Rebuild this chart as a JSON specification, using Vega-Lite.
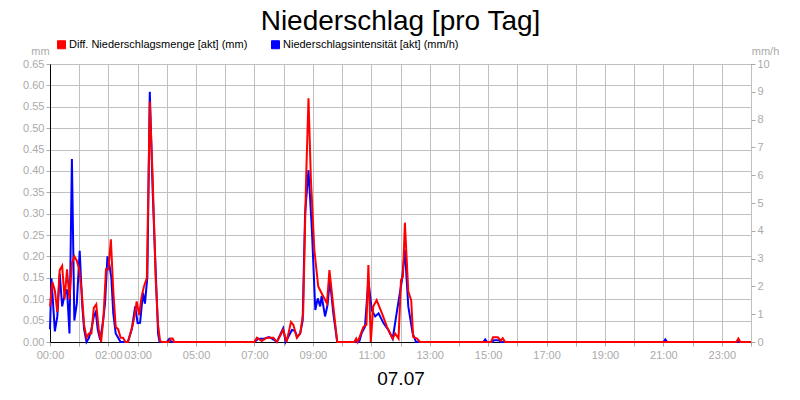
{
  "$schema": "https://vega.github.io/schema/vega-lite/v6.json",
  "width": 701,
  "height": 278,
  "autosize": {"type": "none"},
  "padding": {"left": 50, "top": 64, "right": 49, "bottom": 58},
  "background": "white",
  "title": {
    "text": "Niederschlag [pro Tag]",
    "font": "Liberation Sans",
    "fontSize": 28,
    "fontWeight": "normal",
    "color": "black",
    "anchor": "middle",
    "frame": "group",
    "offset": 3
  },
  "config": {
    "font": "Liberation Sans",
    "view": {"stroke": "black", "strokeWidth": 1},
    "axis": {
      "labelFont": "Liberation Sans",
      "labelFontSize": 11,
      "labelColor": "#aaaaaa",
      "tickColor": "#aaaaaa",
      "tickSize": 4,
      "gridColor": "#c0c0c0",
      "gridWidth": 1,
      "gridOpacity": 1,
      "domainColor": "black",
      "titleFont": "Liberation Sans",
      "titleFontWeight": "normal"
    }
  },
  "data": {
    "values": [
      {"min": 0, "series": "Diff. Niederschlagsmenge [akt] (mm)", "val": 0.083},
      {"min": 5, "series": "Diff. Niederschlagsmenge [akt] (mm)", "val": 0.14},
      {"min": 10, "series": "Diff. Niederschlagsmenge [akt] (mm)", "val": 0.12},
      {"min": 15, "series": "Diff. Niederschlagsmenge [akt] (mm)", "val": 0.07},
      {"min": 20, "series": "Diff. Niederschlagsmenge [akt] (mm)", "val": 0.168},
      {"min": 25, "series": "Diff. Niederschlagsmenge [akt] (mm)", "val": 0.178},
      {"min": 30, "series": "Diff. Niederschlagsmenge [akt] (mm)", "val": 0.10},
      {"min": 35, "series": "Diff. Niederschlagsmenge [akt] (mm)", "val": 0.17},
      {"min": 40, "series": "Diff. Niederschlagsmenge [akt] (mm)", "val": 0.10},
      {"min": 45, "series": "Diff. Niederschlagsmenge [akt] (mm)", "val": 0.185},
      {"min": 50, "series": "Diff. Niederschlagsmenge [akt] (mm)", "val": 0.20},
      {"min": 55, "series": "Diff. Niederschlagsmenge [akt] (mm)", "val": 0.19},
      {"min": 60, "series": "Diff. Niederschlagsmenge [akt] (mm)", "val": 0.17},
      {"min": 65, "series": "Diff. Niederschlagsmenge [akt] (mm)", "val": 0.12},
      {"min": 70, "series": "Diff. Niederschlagsmenge [akt] (mm)", "val": 0.04},
      {"min": 75, "series": "Diff. Niederschlagsmenge [akt] (mm)", "val": 0.01},
      {"min": 80, "series": "Diff. Niederschlagsmenge [akt] (mm)", "val": 0.02},
      {"min": 85, "series": "Diff. Niederschlagsmenge [akt] (mm)", "val": 0.02},
      {"min": 90, "series": "Diff. Niederschlagsmenge [akt] (mm)", "val": 0.08},
      {"min": 95, "series": "Diff. Niederschlagsmenge [akt] (mm)", "val": 0.088},
      {"min": 100, "series": "Diff. Niederschlagsmenge [akt] (mm)", "val": 0.03},
      {"min": 105, "series": "Diff. Niederschlagsmenge [akt] (mm)", "val": 0.0},
      {"min": 110, "series": "Diff. Niederschlagsmenge [akt] (mm)", "val": 0.06},
      {"min": 115, "series": "Diff. Niederschlagsmenge [akt] (mm)", "val": 0.17},
      {"min": 120, "series": "Diff. Niederschlagsmenge [akt] (mm)", "val": 0.17},
      {"min": 125, "series": "Diff. Niederschlagsmenge [akt] (mm)", "val": 0.24},
      {"min": 130, "series": "Diff. Niederschlagsmenge [akt] (mm)", "val": 0.12},
      {"min": 135, "series": "Diff. Niederschlagsmenge [akt] (mm)", "val": 0.035},
      {"min": 140, "series": "Diff. Niederschlagsmenge [akt] (mm)", "val": 0.03},
      {"min": 145, "series": "Diff. Niederschlagsmenge [akt] (mm)", "val": 0.01},
      {"min": 150, "series": "Diff. Niederschlagsmenge [akt] (mm)", "val": 0.01},
      {"min": 155, "series": "Diff. Niederschlagsmenge [akt] (mm)", "val": 0},
      {"min": 160, "series": "Diff. Niederschlagsmenge [akt] (mm)", "val": 0},
      {"min": 165, "series": "Diff. Niederschlagsmenge [akt] (mm)", "val": 0.02},
      {"min": 170, "series": "Diff. Niederschlagsmenge [akt] (mm)", "val": 0.04},
      {"min": 175, "series": "Diff. Niederschlagsmenge [akt] (mm)", "val": 0.07},
      {"min": 178, "series": "Diff. Niederschlagsmenge [akt] (mm)", "val": 0.095},
      {"min": 183, "series": "Diff. Niederschlagsmenge [akt] (mm)", "val": 0.063},
      {"min": 188, "series": "Diff. Niederschlagsmenge [akt] (mm)", "val": 0.105},
      {"min": 193, "series": "Diff. Niederschlagsmenge [akt] (mm)", "val": 0.13},
      {"min": 199, "series": "Diff. Niederschlagsmenge [akt] (mm)", "val": 0.15},
      {"min": 205, "series": "Diff. Niederschlagsmenge [akt] (mm)", "val": 0.562},
      {"min": 211, "series": "Diff. Niederschlagsmenge [akt] (mm)", "val": 0.38},
      {"min": 217, "series": "Diff. Niederschlagsmenge [akt] (mm)", "val": 0.15},
      {"min": 222, "series": "Diff. Niederschlagsmenge [akt] (mm)", "val": 0.04},
      {"min": 226, "series": "Diff. Niederschlagsmenge [akt] (mm)", "val": 0.003},
      {"min": 230, "series": "Diff. Niederschlagsmenge [akt] (mm)", "val": 0},
      {"min": 244, "series": "Diff. Niederschlagsmenge [akt] (mm)", "val": 0},
      {"min": 248, "series": "Diff. Niederschlagsmenge [akt] (mm)", "val": 0.008},
      {"min": 252, "series": "Diff. Niederschlagsmenge [akt] (mm)", "val": 0.008},
      {"min": 255, "series": "Diff. Niederschlagsmenge [akt] (mm)", "val": 0},
      {"min": 420, "series": "Diff. Niederschlagsmenge [akt] (mm)", "val": 0},
      {"min": 425, "series": "Diff. Niederschlagsmenge [akt] (mm)", "val": 0.01},
      {"min": 435, "series": "Diff. Niederschlagsmenge [akt] (mm)", "val": 0.002},
      {"min": 445, "series": "Diff. Niederschlagsmenge [akt] (mm)", "val": 0.01},
      {"min": 459, "series": "Diff. Niederschlagsmenge [akt] (mm)", "val": 0.01},
      {"min": 466, "series": "Diff. Niederschlagsmenge [akt] (mm)", "val": 0},
      {"min": 479, "series": "Diff. Niederschlagsmenge [akt] (mm)", "val": 0.028},
      {"min": 486, "series": "Diff. Niederschlagsmenge [akt] (mm)", "val": 0},
      {"min": 495, "series": "Diff. Niederschlagsmenge [akt] (mm)", "val": 0.047},
      {"min": 500, "series": "Diff. Niederschlagsmenge [akt] (mm)", "val": 0.04},
      {"min": 507, "series": "Diff. Niederschlagsmenge [akt] (mm)", "val": 0.01},
      {"min": 514, "series": "Diff. Niederschlagsmenge [akt] (mm)", "val": 0.02},
      {"min": 520, "series": "Diff. Niederschlagsmenge [akt] (mm)", "val": 0.067},
      {"min": 526, "series": "Diff. Niederschlagsmenge [akt] (mm)", "val": 0.379},
      {"min": 531, "series": "Diff. Niederschlagsmenge [akt] (mm)", "val": 0.57},
      {"min": 536, "series": "Diff. Niederschlagsmenge [akt] (mm)", "val": 0.379},
      {"min": 543, "series": "Diff. Niederschlagsmenge [akt] (mm)", "val": 0.215},
      {"min": 551, "series": "Diff. Niederschlagsmenge [akt] (mm)", "val": 0.13},
      {"min": 558, "series": "Diff. Niederschlagsmenge [akt] (mm)", "val": 0.114},
      {"min": 569, "series": "Diff. Niederschlagsmenge [akt] (mm)", "val": 0.09},
      {"min": 574, "series": "Diff. Niederschlagsmenge [akt] (mm)", "val": 0.168},
      {"min": 581, "series": "Diff. Niederschlagsmenge [akt] (mm)", "val": 0.094},
      {"min": 590, "series": "Diff. Niederschlagsmenge [akt] (mm)", "val": 0},
      {"min": 625, "series": "Diff. Niederschlagsmenge [akt] (mm)", "val": 0},
      {"min": 629, "series": "Diff. Niederschlagsmenge [akt] (mm)", "val": 0.008},
      {"min": 632, "series": "Diff. Niederschlagsmenge [akt] (mm)", "val": 0},
      {"min": 644, "series": "Diff. Niederschlagsmenge [akt] (mm)", "val": 0.036},
      {"min": 650, "series": "Diff. Niederschlagsmenge [akt] (mm)", "val": 0.04},
      {"min": 654, "series": "Diff. Niederschlagsmenge [akt] (mm)", "val": 0.18},
      {"min": 659, "series": "Diff. Niederschlagsmenge [akt] (mm)", "val": 0},
      {"min": 664, "series": "Diff. Niederschlagsmenge [akt] (mm)", "val": 0.083},
      {"min": 671, "series": "Diff. Niederschlagsmenge [akt] (mm)", "val": 0.098},
      {"min": 682, "series": "Diff. Niederschlagsmenge [akt] (mm)", "val": 0.067},
      {"min": 692, "series": "Diff. Niederschlagsmenge [akt] (mm)", "val": 0.036},
      {"min": 704, "series": "Diff. Niederschlagsmenge [akt] (mm)", "val": 0.008},
      {"min": 709, "series": "Diff. Niederschlagsmenge [akt] (mm)", "val": 0.02},
      {"min": 716, "series": "Diff. Niederschlagsmenge [akt] (mm)", "val": 0.008},
      {"min": 721, "series": "Diff. Niederschlagsmenge [akt] (mm)", "val": 0.145},
      {"min": 725, "series": "Diff. Niederschlagsmenge [akt] (mm)", "val": 0.153},
      {"min": 729, "series": "Diff. Niederschlagsmenge [akt] (mm)", "val": 0.279},
      {"min": 736, "series": "Diff. Niederschlagsmenge [akt] (mm)", "val": 0.118},
      {"min": 742, "series": "Diff. Niederschlagsmenge [akt] (mm)", "val": 0.098},
      {"min": 746, "series": "Diff. Niederschlagsmenge [akt] (mm)", "val": 0.012},
      {"min": 754, "series": "Diff. Niederschlagsmenge [akt] (mm)", "val": 0.008},
      {"min": 760, "series": "Diff. Niederschlagsmenge [akt] (mm)", "val": 0},
      {"min": 906, "series": "Diff. Niederschlagsmenge [akt] (mm)", "val": 0},
      {"min": 910, "series": "Diff. Niederschlagsmenge [akt] (mm)", "val": 0.011},
      {"min": 920, "series": "Diff. Niederschlagsmenge [akt] (mm)", "val": 0.011},
      {"min": 926, "series": "Diff. Niederschlagsmenge [akt] (mm)", "val": 0.003},
      {"min": 930, "series": "Diff. Niederschlagsmenge [akt] (mm)", "val": 0.009},
      {"min": 935, "series": "Diff. Niederschlagsmenge [akt] (mm)", "val": 0},
      {"min": 1410, "series": "Diff. Niederschlagsmenge [akt] (mm)", "val": 0},
      {"min": 1414, "series": "Diff. Niederschlagsmenge [akt] (mm)", "val": 0.008},
      {"min": 1418, "series": "Diff. Niederschlagsmenge [akt] (mm)", "val": 0},
      {"min": 1440, "series": "Diff. Niederschlagsmenge [akt] (mm)", "val": 0},

      {"min": 0, "series": "Niederschlagsintensität [akt] (mm/h)", "val": 0.46},
      {"min": 3, "series": "Niederschlagsintensität [akt] (mm/h)", "val": 2.29},
      {"min": 10, "series": "Niederschlagsintensität [akt] (mm/h)", "val": 0.38},
      {"min": 15, "series": "Niederschlagsintensität [akt] (mm/h)", "val": 0.92},
      {"min": 20, "series": "Niederschlagsintensität [akt] (mm/h)", "val": 2.46},
      {"min": 25, "series": "Niederschlagsintensität [akt] (mm/h)", "val": 1.28},
      {"min": 30, "series": "Niederschlagsintensität [akt] (mm/h)", "val": 1.69},
      {"min": 35, "series": "Niederschlagsintensität [akt] (mm/h)", "val": 1.89},
      {"min": 40, "series": "Niederschlagsintensität [akt] (mm/h)", "val": 0.31},
      {"min": 45, "series": "Niederschlagsintensität [akt] (mm/h)", "val": 6.58},
      {"min": 50, "series": "Niederschlagsintensität [akt] (mm/h)", "val": 0.77},
      {"min": 55, "series": "Niederschlagsintensität [akt] (mm/h)", "val": 1.38},
      {"min": 61, "series": "Niederschlagsintensität [akt] (mm/h)", "val": 3.28},
      {"min": 66, "series": "Niederschlagsintensität [akt] (mm/h)", "val": 1.38},
      {"min": 70, "series": "Niederschlagsintensität [akt] (mm/h)", "val": 0.46},
      {"min": 75, "series": "Niederschlagsintensität [akt] (mm/h)", "val": 0},
      {"min": 80, "series": "Niederschlagsintensität [akt] (mm/h)", "val": 0.15},
      {"min": 85, "series": "Niederschlagsintensität [akt] (mm/h)", "val": 0.46},
      {"min": 90, "series": "Niederschlagsintensität [akt] (mm/h)", "val": 0.92},
      {"min": 94, "series": "Niederschlagsintensität [akt] (mm/h)", "val": 1.08},
      {"min": 98, "series": "Niederschlagsintensität [akt] (mm/h)", "val": 0.46},
      {"min": 103, "series": "Niederschlagsintensität [akt] (mm/h)", "val": 0.08},
      {"min": 108, "series": "Niederschlagsintensität [akt] (mm/h)", "val": 0.62},
      {"min": 113, "series": "Niederschlagsintensität [akt] (mm/h)", "val": 1.38},
      {"min": 118, "series": "Niederschlagsintensität [akt] (mm/h)", "val": 3.08},
      {"min": 122, "series": "Niederschlagsintensität [akt] (mm/h)", "val": 2.77},
      {"min": 126, "series": "Niederschlagsintensität [akt] (mm/h)", "val": 2.31},
      {"min": 130, "series": "Niederschlagsintensität [akt] (mm/h)", "val": 1.03},
      {"min": 135, "series": "Niederschlagsintensität [akt] (mm/h)", "val": 0.31},
      {"min": 140, "series": "Niederschlagsintensität [akt] (mm/h)", "val": 0.15},
      {"min": 145, "series": "Niederschlagsintensität [akt] (mm/h)", "val": 0},
      {"min": 160, "series": "Niederschlagsintensität [akt] (mm/h)", "val": 0},
      {"min": 168, "series": "Niederschlagsintensität [akt] (mm/h)", "val": 0.46},
      {"min": 175, "series": "Niederschlagsintensität [akt] (mm/h)", "val": 1.28},
      {"min": 180, "series": "Niederschlagsintensität [akt] (mm/h)", "val": 0.68},
      {"min": 185, "series": "Niederschlagsintensität [akt] (mm/h)", "val": 0.69},
      {"min": 191, "series": "Niederschlagsintensität [akt] (mm/h)", "val": 1.77},
      {"min": 195, "series": "Niederschlagsintensität [akt] (mm/h)", "val": 1.38},
      {"min": 200, "series": "Niederschlagsintensität [akt] (mm/h)", "val": 2.34},
      {"min": 205, "series": "Niederschlagsintensität [akt] (mm/h)", "val": 9.0},
      {"min": 211, "series": "Niederschlagsintensität [akt] (mm/h)", "val": 5.38},
      {"min": 216, "series": "Niederschlagsintensität [akt] (mm/h)", "val": 3.08},
      {"min": 222, "series": "Niederschlagsintensität [akt] (mm/h)", "val": 0.31},
      {"min": 225, "series": "Niederschlagsintensität [akt] (mm/h)", "val": 0},
      {"min": 240, "series": "Niederschlagsintensität [akt] (mm/h)", "val": 0},
      {"min": 245, "series": "Niederschlagsintensität [akt] (mm/h)", "val": 0.11},
      {"min": 250, "series": "Niederschlagsintensität [akt] (mm/h)", "val": 0},
      {"min": 420, "series": "Niederschlagsintensität [akt] (mm/h)", "val": 0},
      {"min": 428, "series": "Niederschlagsintensität [akt] (mm/h)", "val": 0.12},
      {"min": 440, "series": "Niederschlagsintensität [akt] (mm/h)", "val": 0.12},
      {"min": 450, "series": "Niederschlagsintensität [akt] (mm/h)", "val": 0.18},
      {"min": 460, "series": "Niederschlagsintensität [akt] (mm/h)", "val": 0.08},
      {"min": 466, "series": "Niederschlagsintensität [akt] (mm/h)", "val": 0},
      {"min": 479, "series": "Niederschlagsintensität [akt] (mm/h)", "val": 0.49},
      {"min": 484, "series": "Niederschlagsintensität [akt] (mm/h)", "val": 0},
      {"min": 497, "series": "Niederschlagsintensität [akt] (mm/h)", "val": 0.43},
      {"min": 503, "series": "Niederschlagsintensität [akt] (mm/h)", "val": 0.4},
      {"min": 508, "series": "Niederschlagsintensität [akt] (mm/h)", "val": 0.18},
      {"min": 514, "series": "Niederschlagsintensität [akt] (mm/h)", "val": 0.31},
      {"min": 519, "series": "Niederschlagsintensität [akt] (mm/h)", "val": 0.77},
      {"min": 524, "series": "Niederschlagsintensität [akt] (mm/h)", "val": 4.62},
      {"min": 531, "series": "Niederschlagsintensität [akt] (mm/h)", "val": 6.18},
      {"min": 538, "series": "Niederschlagsintensität [akt] (mm/h)", "val": 4.03},
      {"min": 545, "series": "Niederschlagsintensität [akt] (mm/h)", "val": 1.15},
      {"min": 550, "series": "Niederschlagsintensität [akt] (mm/h)", "val": 1.57},
      {"min": 555, "series": "Niederschlagsintensität [akt] (mm/h)", "val": 1.28},
      {"min": 558, "series": "Niederschlagsintensität [akt] (mm/h)", "val": 1.66},
      {"min": 565, "series": "Niederschlagsintensität [akt] (mm/h)", "val": 0.92},
      {"min": 570, "series": "Niederschlagsintensität [akt] (mm/h)", "val": 1.32},
      {"min": 575, "series": "Niederschlagsintensität [akt] (mm/h)", "val": 2.23},
      {"min": 582, "series": "Niederschlagsintensität [akt] (mm/h)", "val": 1.03},
      {"min": 590, "series": "Niederschlagsintensität [akt] (mm/h)", "val": 0},
      {"min": 635, "series": "Niederschlagsintensität [akt] (mm/h)", "val": 0},
      {"min": 640, "series": "Niederschlagsintensität [akt] (mm/h)", "val": 0.31},
      {"min": 647, "series": "Niederschlagsintensität [akt] (mm/h)", "val": 0.55},
      {"min": 654, "series": "Niederschlagsintensität [akt] (mm/h)", "val": 2.23},
      {"min": 661, "series": "Niederschlagsintensität [akt] (mm/h)", "val": 1.15},
      {"min": 668, "series": "Niederschlagsintensität [akt] (mm/h)", "val": 0.92},
      {"min": 675, "series": "Niederschlagsintensität [akt] (mm/h)", "val": 1.03},
      {"min": 685, "series": "Niederschlagsintensität [akt] (mm/h)", "val": 0.68},
      {"min": 695, "series": "Niederschlagsintensität [akt] (mm/h)", "val": 0.43},
      {"min": 704, "series": "Niederschlagsintensität [akt] (mm/h)", "val": 0.12},
      {"min": 712, "series": "Niederschlagsintensität [akt] (mm/h)", "val": 1.03},
      {"min": 723, "series": "Niederschlagsintensität [akt] (mm/h)", "val": 2.23},
      {"min": 729, "series": "Niederschlagsintensität [akt] (mm/h)", "val": 3.31},
      {"min": 736, "series": "Niederschlagsintensität [akt] (mm/h)", "val": 1.28},
      {"min": 745, "series": "Niederschlagsintensität [akt] (mm/h)", "val": 0.31},
      {"min": 752, "series": "Niederschlagsintensität [akt] (mm/h)", "val": 0},
      {"min": 890, "series": "Niederschlagsintensität [akt] (mm/h)", "val": 0},
      {"min": 894, "series": "Niederschlagsintensität [akt] (mm/h)", "val": 0.09},
      {"min": 898, "series": "Niederschlagsintensität [akt] (mm/h)", "val": 0},
      {"min": 908, "series": "Niederschlagsintensität [akt] (mm/h)", "val": 0},
      {"min": 912, "series": "Niederschlagsintensität [akt] (mm/h)", "val": 0.06},
      {"min": 922, "series": "Niederschlagsintensität [akt] (mm/h)", "val": 0.06},
      {"min": 926, "series": "Niederschlagsintensität [akt] (mm/h)", "val": 0},
      {"min": 1260, "series": "Niederschlagsintensität [akt] (mm/h)", "val": 0},
      {"min": 1264, "series": "Niederschlagsintensität [akt] (mm/h)", "val": 0.09},
      {"min": 1268, "series": "Niederschlagsintensität [akt] (mm/h)", "val": 0},
      {"min": 1440, "series": "Niederschlagsintensität [akt] (mm/h)", "val": 0}
    ]
  },
  "encoding": {
    "x": {
      "field": "min",
      "type": "quantitative",
      "scale": {"domain": [0, 1440], "nice": false, "zero": false},
      "axis": {
        "values": [0, 60, 120, 180, 240, 300, 360, 420, 480, 540, 600, 660, 720, 780, 840, 900, 960, 1020, 1080, 1140, 1200, 1260, 1320, 1380, 1440],
        "labelExpr": "indexof([0, 120, 180, 300, 420, 540, 660, 780, 900, 1020, 1140, 1260, 1380], datum.value) >= 0 ? format(datum.value / 60, '02d') + ':00' : ''",
        "grid": true,
        "labelFlush": false,
        "labelPadding": 3,
        "labelOverlap": false,
        "title": "07.07",
        "titleFontSize": 19,
        "titleColor": "black",
        "titlePadding": 9
      }
    },
    "color": {
      "field": "series",
      "type": "nominal",
      "scale": {
        "domain": ["Diff. Niederschlagsmenge [akt] (mm)", "Niederschlagsintensität [akt] (mm/h)"],
        "range": ["#ff0000", "#0000ff"]
      },
      "legend": {
        "title": null,
        "orient": "none",
        "legendX": 6,
        "legendY": -25,
        "direction": "horizontal",
        "padding": 0,
        "symbolType": "square",
        "symbolSize": 64,
        "symbolStrokeWidth": 1,
        "labelFont": "Liberation Sans",
        "labelFontSize": 11,
        "labelColor": "black",
        "labelOffset": 2,
        "labelLimit": 400,
        "columnPadding": 21,
        "encode": {
          "symbols": {
            "update": {
              "fill": {"scale": "color", "field": "value"},
              "stroke": {"value": "black"},
              "fillOpacity": {"value": 1}
            }
          }
        }
      }
    }
  },
  "layer": [
    {
      "transform": [{"filter": "datum.series == 'Niederschlagsintensität [akt] (mm/h)'"}],
      "mark": {"type": "line", "strokeWidth": 2, "interpolate": "linear"},
      "encoding": {
        "y": {
          "field": "val",
          "type": "quantitative",
          "scale": {"domain": [0, 10], "nice": false},
          "axis": {
            "orient": "right",
            "values": [0, 1, 2, 3, 4, 5, 6, 7, 8, 9, 10],
            "grid": false,
            "domain": false,
            "labelPadding": 2,
            "title": "mm/h",
            "titleAngle": 0,
            "titleX": 14,
            "titleY": -8,
            "titleAlign": "center",
            "titleBaseline": "bottom",
            "titleFontSize": 11,
            "titleColor": "#aaaaaa"
          }
        }
      }
    },
    {
      "transform": [{"filter": "datum.series == 'Diff. Niederschlagsmenge [akt] (mm)'"}],
      "mark": {"type": "line", "strokeWidth": 2, "interpolate": "linear"},
      "encoding": {
        "y": {
          "field": "val",
          "type": "quantitative",
          "scale": {"domain": [0, 0.65], "nice": false},
          "axis": {
            "orient": "left",
            "values": [0, 0.05, 0.1, 0.15, 0.2, 0.25, 0.3, 0.35, 0.4, 0.45, 0.5, 0.55, 0.6, 0.65],
            "format": ".2f",
            "grid": true,
            "labelPadding": 2,
            "title": "mm",
            "titleAngle": 0,
            "titleX": -10,
            "titleY": -8,
            "titleAlign": "center",
            "titleBaseline": "bottom",
            "titleFontSize": 11,
            "titleColor": "#aaaaaa"
          }
        }
      }
    }
  ],
  "resolve": {"scale": {"y": "independent"}}
}
